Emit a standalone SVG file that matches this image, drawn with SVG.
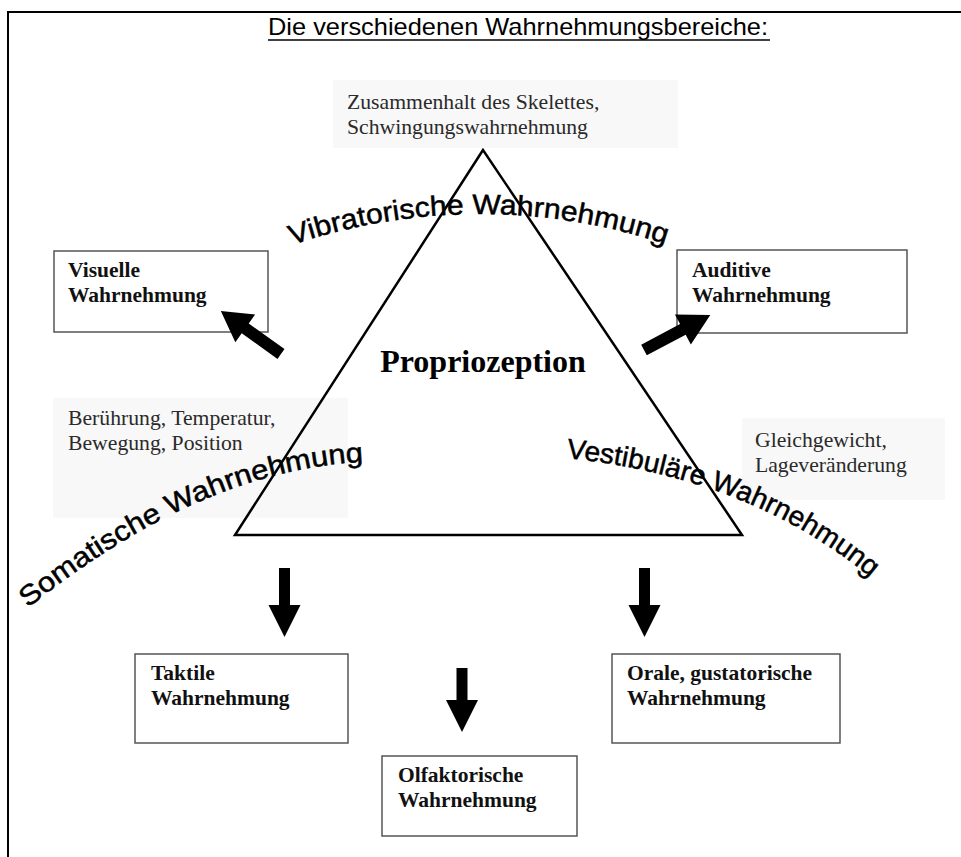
<svg xmlns="http://www.w3.org/2000/svg" xmlns:xlink="http://www.w3.org/1999/xlink" width="961" height="857" viewBox="0 0 961 857">
<style>
.frame{fill:none;stroke:#000;stroke-width:2}
.box{fill:#fff;stroke:#555;stroke-width:1.5}
.bt{font-family:"Liberation Serif","Times New Roman",serif;font-weight:bold;font-size:21.5px;fill:#111}
.note{font-family:"Liberation Serif","Times New Roman",serif;font-size:21.7px;fill:#2a2a2a}
.notebg{fill:#f8f8f8}
.arc{font-family:"Liberation Sans",Arial,sans-serif;font-size:28px;fill:#000;stroke:#000;stroke-width:0.5}
.arrow{fill:#000}
</style>
<defs>
<path id="pVib" d="M 292 245 A 586 586 0 0 1 668 245"/>
<path id="pSom" d="M 28 608 Q 200 470 362 462"/>
<path id="pVes" d="M 566 458 Q 760 478 885 590"/>
</defs>
<rect width="961" height="857" fill="#fff"/>
<path class="frame" d="M 8 857 V 12 H 961"/>
<g id="title">
<text x="268" y="35" font-family="'Liberation Sans',Arial,sans-serif" font-size="24" textLength="500" lengthAdjust="spacingAndGlyphs">Die verschiedenen Wahrnehmungsbereiche:</text>
<line x1="268" y1="40" x2="770" y2="40" stroke="#000" stroke-width="1.5"/>
</g>
<g id="note-top">
<rect class="notebg" x="333" y="80" width="345" height="68"/>
<text class="note" x="347" y="109">Zusammenhalt des Skelettes,</text>
<text class="note" x="347" y="134">Schwingungswahrnehmung</text>
</g>
<g id="note-left">
<rect class="notebg" x="53" y="398" width="295" height="120"/>
<text class="note" x="68" y="425">Berührung, Temperatur,</text>
<text class="note" x="68" y="450">Bewegung, Position</text>
</g>
<g id="note-right">
<rect class="notebg" x="742" y="418" width="203" height="82"/>
<text class="note" x="755" y="447">Gleichgewicht,</text>
<text class="note" x="755" y="472">Lageveränderung</text>
</g>
<g id="arc-labels">
<text class="arc"><textPath xlink:href="#pVib" textLength="380" lengthAdjust="spacingAndGlyphs">Vibratorische Wahrnehmung</textPath></text>
<text class="arc"><textPath xlink:href="#pSom" textLength="372" lengthAdjust="spacingAndGlyphs">Somatische Wahrnehmung</textPath></text>
<text class="arc"><textPath xlink:href="#pVes" textLength="332" lengthAdjust="spacingAndGlyphs">Vestibuläre Wahrnehmung</textPath></text>
</g>
<g id="proprioception">
<polygon points="483,150 235,535 742,535" fill="none" stroke="#000" stroke-width="2.5" stroke-linejoin="miter"/>
<text x="483" y="372" text-anchor="middle" font-family="'Liberation Serif','Times New Roman',serif" font-weight="bold" font-size="32">Propriozeption</text>
</g>
<g id="visuelle">
<rect class="box" x="54" y="251" width="214" height="81"/>
<text class="bt" x="68" y="277">Visuelle</text>
<text class="bt" x="68" y="302">Wahrnehmung</text>
</g>
<g id="auditive">
<rect class="box" x="677" y="250" width="230" height="83"/>
<text class="bt" x="692" y="277">Auditive</text>
<text class="bt" x="692" y="302">Wahrnehmung</text>
</g>
<g id="taktile">
<rect class="box" x="135" y="654" width="213" height="89"/>
<text class="bt" x="151" y="680">Taktile</text>
<text class="bt" x="151" y="705">Wahrnehmung</text>
</g>
<g id="orale">
<rect class="box" x="612" y="654" width="228" height="89"/>
<text class="bt" x="627" y="680">Orale, gustatorische</text>
<text class="bt" x="627" y="705">Wahrnehmung</text>
</g>
<g id="olfaktorische">
<rect class="box" x="382" y="756" width="195" height="80"/>
<text class="bt" x="398" y="782">Olfaktorische</text>
<text class="bt" x="398" y="807">Wahrnehmung</text>
</g>
<g id="connectors">
<path class="arrow" transform="translate(281,354) rotate(215.6)" d="M0,-6 H44 V-17 L74,0 L44,17 V6 H0 Z"/>
<path class="arrow" transform="translate(644,350) rotate(-27.9)" d="M0,-6 H44 V-17 L75,0 L44,17 V6 H0 Z"/>
<path class="arrow" transform="translate(284.5,568) rotate(90)" d="M0,-5.5 H37 V-16 L69,0 L37,16 V5.5 H0 Z"/>
<path class="arrow" transform="translate(644.5,568) rotate(90)" d="M0,-5.5 H37 V-16 L69,0 L37,16 V5.5 H0 Z"/>
<path class="arrow" transform="translate(462,668) rotate(90)" d="M0,-5.5 H32 V-16 L64,0 L32,16 V5.5 H0 Z"/>
</g>
</svg>
